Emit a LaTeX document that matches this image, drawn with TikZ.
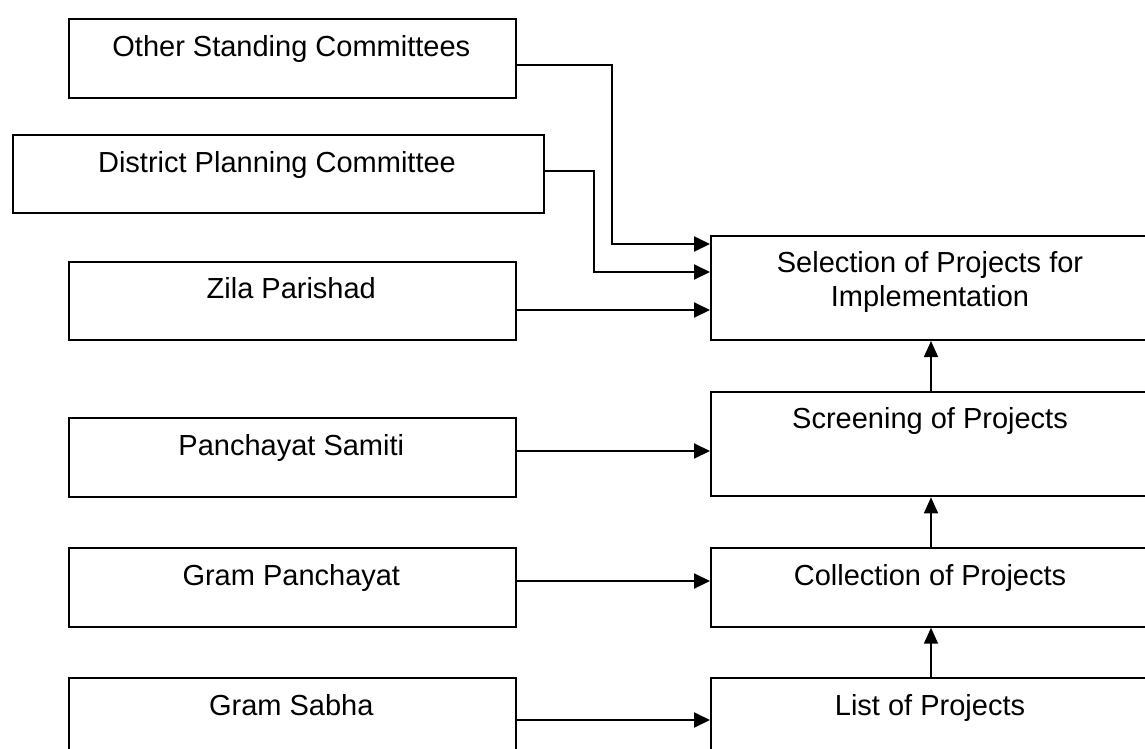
\documentclass[tikz,border=0pt]{standalone}
\usepackage{fontspec}
\setmainfont{Liberation Sans}
\usetikzlibrary{arrows.meta}
\begin{document}
\begin{tikzpicture}[x=1pt,y=-1pt,
  box/.style={draw, line width=2pt, rectangle, anchor=north west, inner sep=0pt, minimum height=78.4pt},
  wide/.style={box, minimum width=447.5pt},
  rbox/.style={box, minimum width=440pt},
  tall/.style={minimum height=104pt},
  txt/.style={anchor=base, inner sep=0pt, font=\fontsize{29}{34}\selectfont, align=center},
  arr/.style={line width=2pt, -{Triangle[length=16pt,width=15pt]}},
  varr/.style={line width=1.6pt, -{Triangle[length=16pt,width=14pt]}}]
\clip (0,0) rectangle (1145,749);
\fill[white] (0,0) rectangle (1145,749);
% left column
\node[wide] (os) at (67.5,18.3) {};
\node[box, minimum width=531pt] (dpc) at (11.5,133.7) {};
\node[wide] (zp) at (67.5,261) {};
\node[wide] (ps) at (67.5,417.3) {};
\node[wide] (gp) at (67.5,547.3) {};
\node[wide] (gs) at (67.5,677.3) {};
% right column
\node[rbox, tall] (sel) at (710,235) {};
\node[rbox, tall] (scr) at (710,391.3) {};
\node[rbox] (col) at (710,547.3) {};
\node[rbox] (lp) at (710,677.3) {};
% texts
\node[txt] (tos) at (291.3,56.8) {Other Standing Committees};
\node[txt] (tdpc) at (277,172) {District Planning Committee};
\node[txt] (tzp) at (291.3,298.3) {Zila Parishad};
\node[txt] (tps) at (291.3,455) {Panchayat Samiti};
\node[txt] (tgp) at (291.3,585) {Gram Panchayat};
\node[txt] (tgs) at (291.3,715) {Gram Sabha};
\node[txt] (tsel) at (930,306.7) {Selection of Projects for\\Implementation};
\node[txt] (tscr) at (930,428.5) {Screening of Projects};
\node[txt] (tcol) at (930,585) {Collection of Projects};
\node[txt] (tlp) at (930,715) {List of Projects};
% connectors
\coordinate (k1) at (612,244);
\coordinate (k2) at (593.7,272);
\draw[arr] ([yshift=-6.2pt]os.east) -| (k1) -- (k1 -| sel.west);
\draw[arr] ([yshift=2.5pt]dpc.east) -| (k2) -- (k2 -| sel.west);
\draw[arr] ([yshift=-8.8pt]zp.east) -- ([yshift=-8.8pt]zp.east -| sel.west);
\draw[arr] ([yshift=6.5pt]ps.east) -- ([yshift=6.5pt]ps.east -| scr.west);
\draw[arr] ([yshift=6.5pt]gp.east) -- ([yshift=6.5pt]gp.east -| col.west);
\draw[arr] ([yshift=-2.5pt]gs.east) -- ([yshift=-2.5pt]gs.east -| lp.west);
\draw[varr] (scr.north) -- (sel.south);
\draw[varr] (col.north) -- (scr.south);
\draw[varr] (lp.north) -- (col.south);
\end{tikzpicture}
\end{document}
